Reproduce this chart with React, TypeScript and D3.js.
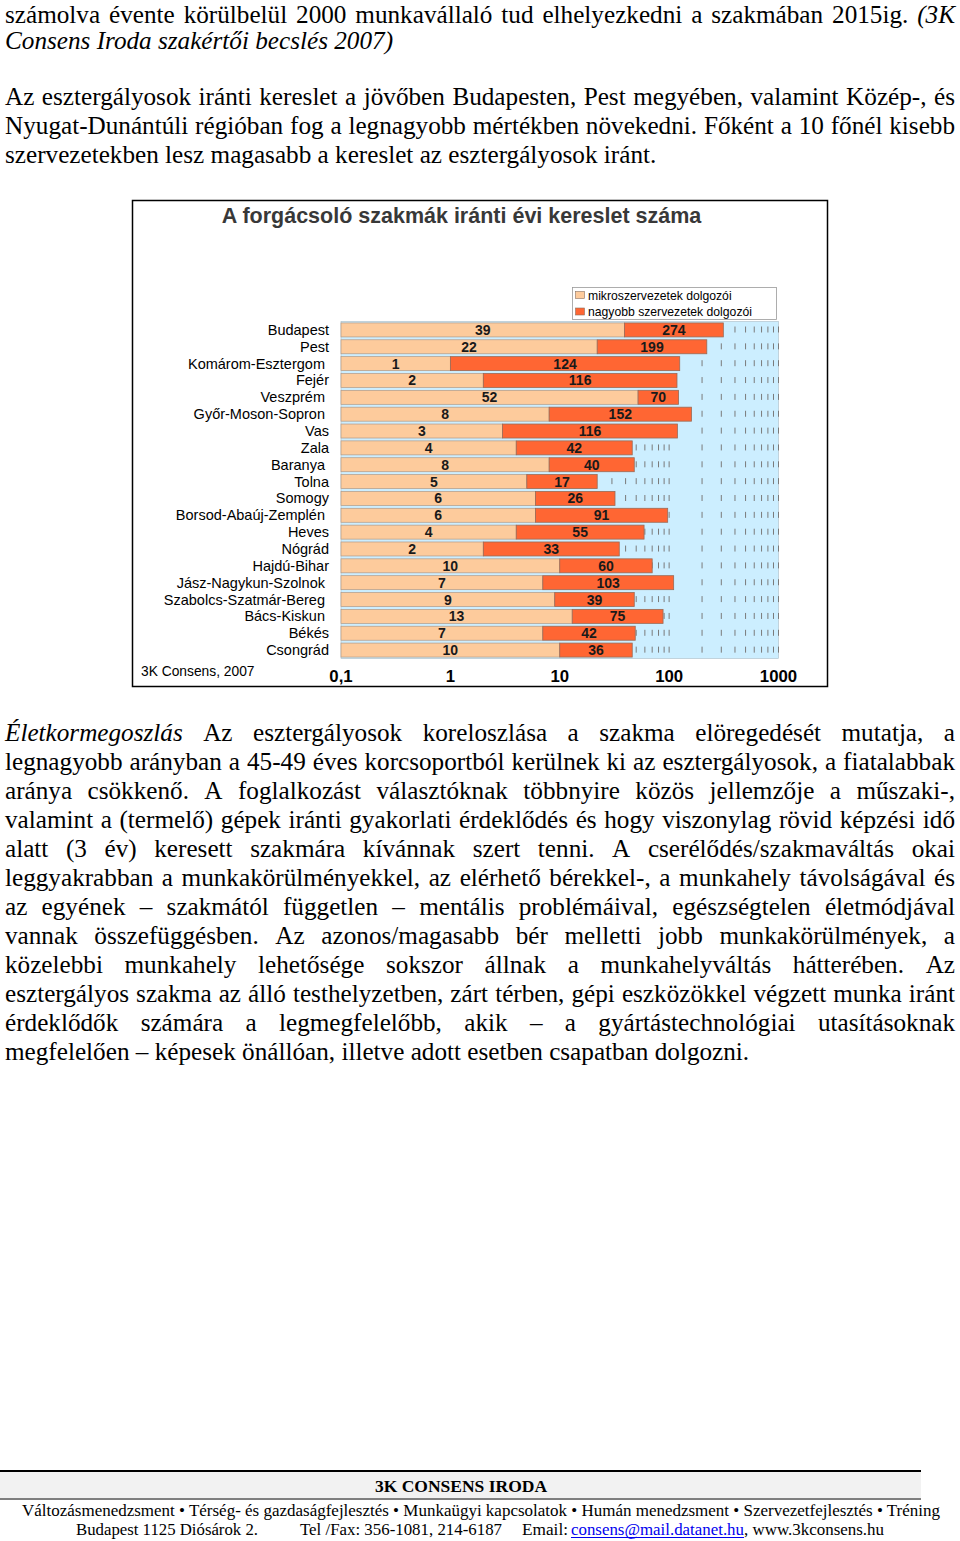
import React from 'react';
import * as d3 from 'd3';

const regions = [
  'Budapest', 'Pest', 'Komárom-Esztergom ', 'Fejér', 'Veszprém ', 'Győr-Moson-Sopron ', 'Vas', 'Zala',
  'Baranya ', 'Tolna', 'Somogy', 'Borsod-Abaúj-Zemplén ', 'Heves', 'Nógrád', 'Hajdú-Bihar',
  'Jász-Nagykun-Szolnok ', 'Szabolcs-Szatmár-Bereg ', 'Bács-Kiskun ', 'Békés', 'Csongrád',
];
const mikro = [39, 22, 1, 2, 52, 8, 3, 4, 8, 5, 6, 6, 4, 2, 10, 7, 9, 13, 7, 10];
const nagyobb = [274, 199, 124, 116, 70, 152, 116, 42, 40, 17, 26, 91, 55, 33, 60, 103, 39, 75, 42, 36];
const seriesNames = ['mikroszervezetek dolgozói', 'nagyobb szervezetek dolgozói'];
const axisTicks = [0.1, 1, 10, 100, 1000];
const axisTickLabels = ['0,1', '1', '10', '100', '1000'];

const SERIF = '"Liberation Serif", "Times New Roman", serif';
const SANS = '"Liberation Sans", Arial, sans-serif';
const LIGHT = '#FDCB9C';
const ORANGE = '#FF6633';

type Seg = { t: string; i?: boolean };
type Line = { segs: Seg[]; y: number; justify: boolean };

const topLines: Line[] = [
  { segs: [{ t: 'számolva évente körülbelül 2000 munkavállaló tud elhelyezkedni a szakmában 2015ig. ' }, { t: '(3K', i: true }], y: 22.5, justify: true },
  { segs: [{ t: 'Consens Iroda szakértői becslés 2007)', i: true }], y: 49, justify: false },
  { segs: [{ t: 'Az esztergályosok iránti kereslet a jövőben Budapesten, Pest megyében, valamint Közép-, és' }], y: 105, justify: true },
  { segs: [{ t: 'Nyugat-Dunántúli régióban fog a legnagyobb mértékben növekedni. Főként a 10 főnél kisebb' }], y: 134, justify: true },
  { segs: [{ t: 'szervezetekben lesz magasabb a kereslet az esztergályosok iránt.' }], y: 163, justify: false },
];

const bottomTexts = [
  'Az esztergályosok koreloszlása a szakma elöregedését mutatja, a',
  'legnagyobb arányban a 45-49 éves korcsoportból kerülnek ki az esztergályosok, a fiatalabbak',
  'aránya csökkenő. A foglalkozást választóknak többnyire közös jellemzője a műszaki-,',
  'valamint a (termelő) gépek iránti gyakorlati érdeklődés és hogy viszonylag rövid képzési idő',
  'alatt (3 év) keresett szakmára kívánnak szert tenni. A cserélődés/szakmaváltás okai',
  'leggyakrabban a munkakörülményekkel, az elérhető bérekkel-, a munkahely távolságával és',
  'az egyének – szakmától független – mentális problémáival, egészségtelen életmódjával',
  'vannak összefüggésben. Az azonos/magasabb bér melletti jobb munkakörülmények, a',
  'közelebbi munkahely lehetősége sokszor állnak a munkahelyváltás hátterében. Az',
  'esztergályos szakma az álló testhelyzetben, zárt térben, gépi eszközökkel végzett munka iránt',
  'érdeklődők számára a legmegfelelőbb, akik – a gyártástechnológiai utasításoknak',
  'megfelelően – képesek önállóan, illetve adott esetben csapatban dolgozni.',
];
const bottomLines: Line[] = bottomTexts.map((t, k) => ({
  segs: k === 0 ? [{ t: 'Életkormegoszlás ', i: true }, { t }] : [{ t }],
  y: 741 + k * 29,
  justify: k !== bottomTexts.length - 1,
}));

const FS = 25.2;
let ctx: CanvasRenderingContext2D | null = null;
function measure(text: string, font: string): number {
  if (!ctx) ctx = document.createElement('canvas').getContext('2d');
  if (!ctx) return text.length * 10;
  ctx.font = font;
  return ctx.measureText(text).width;
}
const fontStr = (italic: boolean) => `${italic ? 'italic ' : ''}${FS}px "Liberation Serif"`;

function TextLine({ line, x0, x1 }: { line: Line; x0: number; x1: number }) {
  const words: { w: string; i: boolean }[] = [];
  line.segs.forEach((s) => s.t.split(' ').filter(Boolean).forEach((w) => words.push({ w, i: !!s.i })));
  const widths = words.map((w) => measure(w.w, fontStr(w.i)));
  const total = widths.reduce((a, b) => a + b, 0);
  const gap = line.justify && words.length > 1 ? (x1 - x0 - total) / (words.length - 1) : measure(' ', fontStr(false));
  let x = x0;
  return (
    <g>
      {words.map((w, k) => {
        const px = x;
        x += widths[k] + gap;
        return (
          <text key={k} x={px} y={line.y} fontFamily={SERIF} fontSize={FS} fontStyle={w.i ? 'italic' : 'normal'} fill="#000">
            {w.w}
          </text>
        );
      })}
    </g>
  );
}

function Chart() {
  const x = d3.scaleLog().domain([0.1, 1000]).range([341, 778.5]);
  const y = d3.scaleBand<string>().domain(regions).range([321.5, 658.5]).paddingInner(0.17).paddingOuter(0.085);
  const gridTicks = x.ticks().filter((v) => v > 0.1);
  const step = y.step();
  const rows = regions.map((r, k) => ({ r, m: mikro[k], n: nagyobb[k] }));
  return (
    <g>
      <rect x={132.5} y={200.5} width={695} height={486} fill="#fff" stroke="#000" strokeWidth={1.5} />
      <text x={461.5} y={222.5} textAnchor="middle" fontFamily={SANS} fontWeight="bold" fontSize={21.5} fill="#383838">
        A forgácsoló szakmák iránti évi kereslet száma
      </text>
      <rect x={x(0.1)} y={321.5} width={x(1000) - x(0.1)} height={337} fill="#CCEEFF" stroke="#a9bcc6" strokeWidth={0.6} />
      {gridTicks.map((v) => (
        <line key={v} x1={x(v)} x2={x(v)} y1={321.5 + 5} y2={658.5} stroke="#7a7a7a" strokeWidth={1}
          strokeDasharray={`6 ${step - 6}`} />
      ))}
      {rows.map((d) => {
        const yy = y(d.r)!;
        const h = y.bandwidth();
        const x0 = x(0.1), x1 = x(d.m), x2 = x(d.m + d.n);
        return (
          <g key={d.r}>
            <rect x={x0} y={yy} width={x1 - x0} height={h} fill={LIGHT} stroke="#b09a88" strokeWidth={0.7} />
            <rect x={x1} y={yy} width={x2 - x1} height={h} fill={ORANGE} stroke="#9a6a55" strokeWidth={0.8} />
            <text x={(x0 + x1) / 2} y={yy + h / 2 + 5} textAnchor="middle" fontFamily={SANS} fontWeight="bold" fontSize={14} fill="#1a1a1a">{d.m}</text>
            <text x={(x1 + x2) / 2} y={yy + h / 2 + 5} textAnchor="middle" fontFamily={SANS} fontWeight="bold" fontSize={14} fill="#1a1a1a">{d.n}</text>
            <text x={329} y={yy + h / 2 + 5} textAnchor="end" fontFamily={SANS} fontSize={14.5} fill="#000" style={{ whiteSpace: 'pre' }}>{d.r}</text>
          </g>
        );
      })}
      <rect x={572.5} y={287.5} width={204} height={32} fill="#fff" stroke="#9a9a9a" strokeWidth={0.8} />
      {seriesNames.map((s, k) => (
        <g key={s}>
          <rect x={575.5} y={291.5 + k * 16.5} width={9} height={7} fill={k === 0 ? LIGHT : ORANGE} stroke="#8a7060" strokeWidth={0.6} />
          <text x={588} y={299.5 + k * 16.5} fontFamily={SANS} fontSize={12.2} fill="#000">{s}</text>
        </g>
      ))}
      {axisTicks.map((v, k) => (
        <text key={v} x={x(v)} y={681.5} textAnchor="middle" fontFamily={SANS} fontWeight="bold" fontSize={16.8} fill="#000">{axisTickLabels[k]}</text>
      ))}
      <text x={141} y={676} fontFamily={SANS} fontSize={13.8} fill="#000">3K Consens, 2007</text>
    </g>
  );
}

function Footer() {
  return (
    <g fontFamily={SERIF} fill="#000">
      <rect x={0} y={1472} width={921} height={26} fill="#f2f2f2" />
      <line x1={0} x2={921} y1={1471} y2={1471} stroke="#000" strokeWidth={2} />
      <line x1={0} x2={921} y1={1499} y2={1499} stroke="#000" strokeWidth={1} />
      <text x={461} y={1492} textAnchor="middle" fontWeight="bold" fontSize={17.5}>3K CONSENS IRODA</text>
      <text x={22} y={1516} fontSize={16.6} textLength={918} lengthAdjust="spacingAndGlyphs">
        Változásmenedzsment • Térség- és gazdaságfejlesztés • Munkaügyi kapcsolatok • Humán menedzsment • Szervezetfejlesztés • Tréning
      </text>
      <text x={76} y={1535} fontSize={16.6} textLength={182} lengthAdjust="spacingAndGlyphs">Budapest 1125 Diósárok 2.</text>
      <text x={300} y={1535} fontSize={16.6} textLength={202} lengthAdjust="spacingAndGlyphs">Tel /Fax: 356-1081, 214-6187</text>
      <text x={522} y={1535} fontSize={16.6} textLength={46} lengthAdjust="spacingAndGlyphs">Email:</text>
      <text x={571} y={1535} fontSize={16.6} fill="#0000EE" textLength={173} lengthAdjust="spacingAndGlyphs">consens@mail.datanet.hu</text>
      <line x1={571} x2={744} y1={1537.5} y2={1537.5} stroke="#0000EE" strokeWidth={1} />
      <text x={744} y={1535} fontSize={16.6} textLength={140} lengthAdjust="spacingAndGlyphs">, www.3kconsens.hu</text>
    </g>
  );
}

export default function App() {
  return (
    <svg width={960} height={1541} style={{ position: 'absolute', left: 0, top: 0, background: '#fff' }}>
      <rect x={0} y={0} width={960} height={1541} fill="#fff" />
      {topLines.map((l, k) => <TextLine key={'t' + k} line={l} x0={5} x1={955} />)}
      <Chart />
      {bottomLines.map((l, k) => <TextLine key={'b' + k} line={l} x0={5} x1={955} />)}
      <Footer />
    </svg>
  );
}
